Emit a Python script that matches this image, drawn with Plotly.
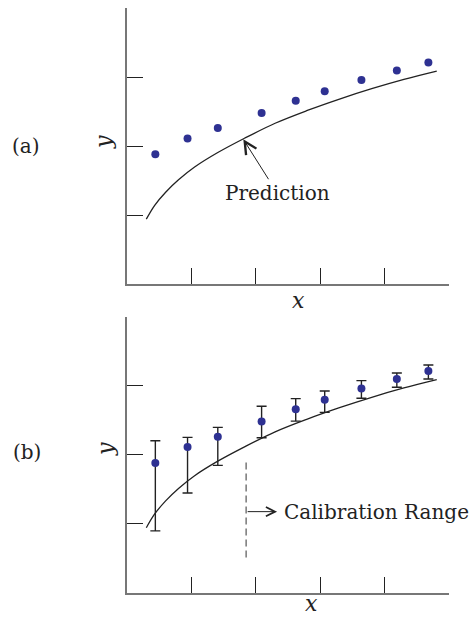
import plotly.graph_objects as go

# Measured responses at the calibration points
x_obs = [0.44, 0.94, 1.41, 2.09, 2.62, 3.07, 3.64, 4.19, 4.68]
y_obs = [1.88, 2.11, 2.26, 2.48, 2.655, 2.795, 2.957, 3.096, 3.21]

# Uncertainty of each measurement (upper / lower extent)
err_upper = [0.32, 0.14, 0.135, 0.22, 0.155, 0.125, 0.115, 0.085, 0.087]
err_lower = [0.985, 0.667, 0.416, 0.236, 0.17, 0.183, 0.14, 0.12, 0.116]

# Model prediction curve
x_pred = [0.30, 0.43, 0.60, 0.80, 1.05, 1.41, 1.81, 2.30, 2.80, 3.30, 3.80, 4.30, 4.81]
y_pred = [0.94, 1.14, 1.33, 1.51, 1.695, 1.905, 2.105, 2.33, 2.515, 2.68, 2.83, 2.965, 3.085]

# Lower bound of the calibration range
calib_x = 1.85
calib_span = [0.51, 1.90]

x_ticks = [1, 2, 3, 4, 5]
y_ticks = [1, 2, 3, 4]

W, H = 469, 618
DOT = "#2e3192"
INK = "#222222"
AXIS = "#777777"
SERIF = "DejaVu Serif"


def px(xp):
    return xp / W


def py(yp):
    return 1 - yp / H


fig = go.Figure()

# panel (a): prediction vs. measurements
fig.add_trace(go.Scatter(x=x_pred, y=y_pred, mode="lines",
                         line=dict(color=INK, width=1.3, shape="spline", smoothing=1),
                         xaxis="x", yaxis="y", hoverinfo="skip"))
fig.add_trace(go.Scatter(x=x_obs, y=y_obs, mode="markers",
                         marker=dict(color=DOT, size=8), xaxis="x", yaxis="y"))

# panel (b): same data with uncertainty bars
fig.add_trace(go.Scatter(x=x_pred, y=y_pred, mode="lines",
                         line=dict(color=INK, width=1.3, shape="spline", smoothing=1),
                         xaxis="x2", yaxis="y2", hoverinfo="skip"))
fig.add_trace(go.Scatter(x=x_obs, y=y_obs, mode="markers",
                         marker=dict(color=DOT, size=8),
                         error_y=dict(type="data", symmetric=False,
                                      array=err_upper, arrayminus=err_lower,
                                      color=INK, thickness=1.4, width=5),
                         xaxis="x2", yaxis="y2"))
fig.add_trace(go.Scatter(x=[calib_x, calib_x], y=calib_span, mode="lines",
                         line=dict(color=AXIS, width=1.5, dash="7px,4px"),
                         xaxis="x2", yaxis="y2", hoverinfo="skip"))

axis_common = dict(range=[0, 5], showgrid=False, zeroline=False, showline=True,
                   linecolor=AXIS, linewidth=1.6, ticks="inside", ticklen=16,
                   tickwidth=1.3, tickcolor=INK, showticklabels=False,
                   fixedrange=True)
yaxis_common = dict(axis_common, range=[0, 4], tickvals=y_ticks)
xaxis_common = dict(axis_common, tickvals=x_ticks)

fig.update_layout(
    width=W, height=H,
    margin=dict(l=0, r=0, t=0, b=0),
    paper_bgcolor="white", plot_bgcolor="white",
    showlegend=False,
    font=dict(family=SERIF, color=INK),
    xaxis=dict(xaxis_common, domain=[px(127), px(449)], anchor="y"),
    yaxis=dict(yaxis_common, domain=[py(284), py(8)], anchor="x"),
    xaxis2=dict(xaxis_common, domain=[px(127), px(449)], anchor="y2"),
    yaxis2=dict(yaxis_common, domain=[py(592.7), py(316.5)], anchor="x2"),
)

labels = [
    ("(a)", 26, 146, 0, False, "middle"),
    ("(b)", 27, 452, 0, False, "middle"),
    ("y", 103, 142, -90, True, "middle"),
    ("y", 105, 449, -90, True, "middle"),
    ("x", 298, 300, 0, True, "middle"),
    ("x", 311, 618, 0, True, "bottom"),
]
for text, lx, ly, ang, ital, ya in labels:
    fig.add_annotation(
        x=px(lx), y=py(ly), xref="paper", yref="paper", showarrow=False,
        text=f"<i>{text}</i>" if ital else text, textangle=ang,
        font=dict(family=SERIF, size=22 if ital else 20, color=INK),
        xanchor="center", yanchor=ya)

# "Prediction" callout pointing at the curve
fig.add_annotation(
    x=1.806, y=2.097, xref="x", yref="y",
    ax=2.33, ay=1.323, axref="x", ayref="y",
    text="Prediction", showarrow=True, arrowhead=5, arrowsize=2.4,
    arrowwidth=1, arrowcolor=INK, standoff=0,
    font=dict(family=SERIF, size=20, color=INK))

# calibration range marker
fig.add_annotation(
    x=2.33, y=1.174, xref="x2", yref="y2",
    ax=calib_x, ay=1.174, axref="x2", ayref="y2",
    text="", showarrow=True, arrowhead=5, arrowsize=1.8,
    arrowwidth=1, arrowcolor=INK, standoff=0)
fig.add_annotation(
    x=2.40, y=1.174, xref="x2", yref="y2", showarrow=False,
    text="Calibration Range", xanchor="left", yanchor="middle",
    font=dict(family=SERIF, size=20, color=INK))

fig.write_html("out.html")
